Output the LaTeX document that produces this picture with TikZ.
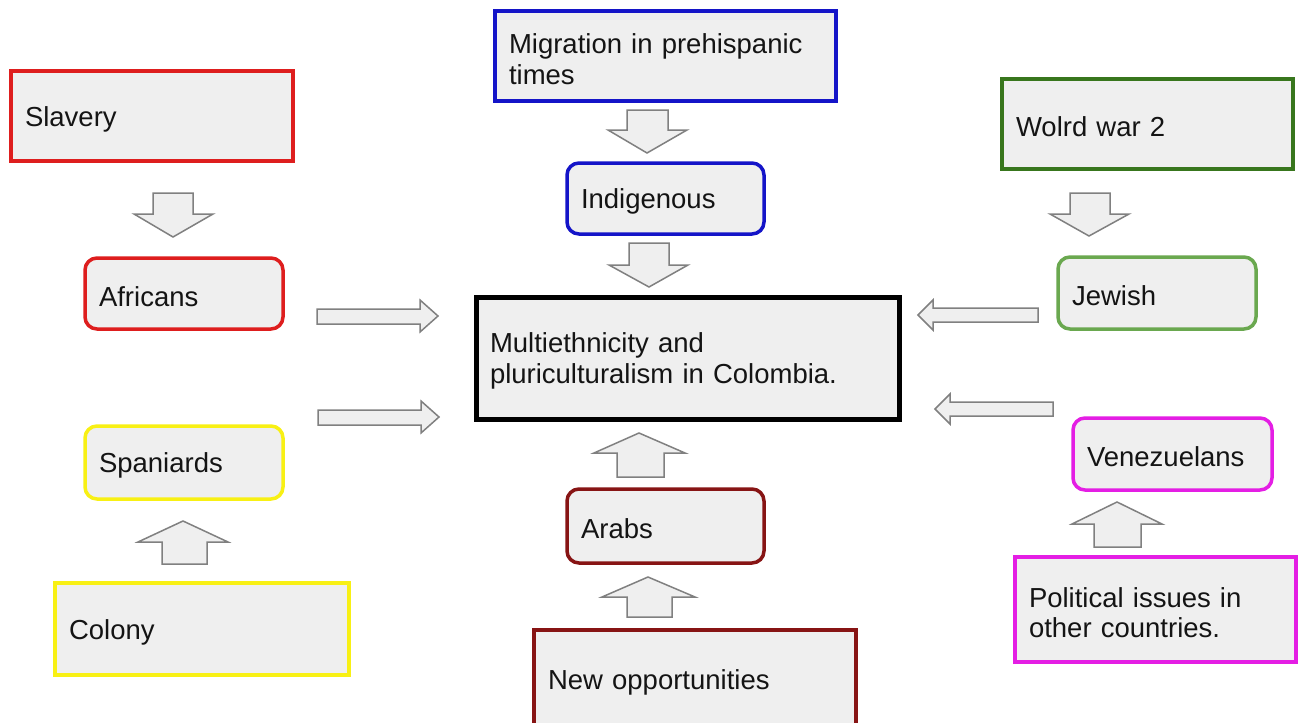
\documentclass[tikz,border=0pt]{standalone}
\usepackage{fontspec}
\setmainfont{Liberation Sans}
\definecolor{boxfill}{RGB}{239,239,239}
\definecolor{arrowgray}{RGB}{128,128,128}
\definecolor{cred}{RGB}{222,30,30}
\definecolor{cyellow}{RGB}{248,240,20}
\definecolor{cblue}{RGB}{20,20,200}
\definecolor{cdarkred}{RGB}{135,20,20}
\definecolor{cdkgreen}{RGB}{56,118,29}
\definecolor{cgreen}{RGB}{106,168,79}
\definecolor{cmagenta}{RGB}{228,30,228}
\newcommand\mybx[7]{%
  \pgfmathsetmacro\myW{#5-#3}\pgfmathsetmacro\myH{#6-#4}\pgfmathsetmacro\myTW{#5-#3-28}%
  \pgfmathsetmacro\myCX{(#3+#5)/2}\pgfmathsetmacro\myCY{(#4+#6)/2}%
  \node[#1, minimum width=\myW pt, minimum height=\myH pt, text width=\myTW pt] (#2) at (\myCX,\myCY) {\rule{0pt}{26pt}#7};}
\tikzset{
  box/.style={draw=#1, line width=3.5pt, fill=boxfill, align=left, inner xsep=14pt, inner ysep=0pt,
    font=\fontsize{27.5}{30.5}\selectfont, text=black!92},
  rbox/.style={box=#1, rounded corners=12pt},
  barrow/.style={draw=arrowgray, fill=boxfill, line width=1.5pt, line join=miter}
}
\begin{document}
\begin{tikzpicture}[x=1pt,y=-1pt]
\fill[white] (0,0) rectangle (1302,723);
\useasboundingbox (0,0) rectangle (1302,723);
% boxes
\mybx{box=cred}{slavery}{11}{71}{293}{161}{Slavery}
\mybx{rbox=cred}{africans}{85}{258}{283}{329}{Africans}
\mybx{rbox=cyellow}{spaniards}{85}{426}{283}{499}{Spaniards}
\mybx{box=cyellow}{colony}{55}{583}{349}{675}{Colony}
\mybx{box=cblue}{migration}{495}{11}{836}{101}{Migration in prehispanic\\times}
\mybx{rbox=cblue}{indigenous}{567}{163}{764}{234}{Indigenous}
\mybx{box=black,line width=5pt}{center}{476}{297}{899}{419}{Multiethnicity and\\pluriculturalism in Colombia.}
\mybx{rbox=cdarkred}{arabs}{567}{489}{764}{563}{Arabs}
\mybx{box=cdarkred}{newopp}{534}{630}{856}{728}{New opportunities}
\mybx{box=cdkgreen}{ww}{1002}{79}{1293}{169}{Wolrd war 2}
\mybx{rbox=cgreen}{jewish}{1058}{257}{1256}{329}{Jewish}
\mybx{rbox=cmagenta}{venez}{1073}{418}{1272}{490}{Venezuelans}
\mybx{box=cmagenta}{political}{1015}{557}{1296}{662}{Political issues in\\other countries.}
% down arrows
\draw[barrow] (153,193) -- (193,193) -- (193,214) -- (213,214) -- (173,237) -- (134,214) -- (153,214) -- cycle;
\draw[barrow] (627,110) -- (668,110) -- (668,130) -- (687,130) -- (647,153) -- (608,130) -- (627,130) -- cycle;
\draw[barrow] (629,243) -- (669,243) -- (669,265) -- (688,265) -- (649,287) -- (609,265) -- (629,265) -- cycle;
\draw[barrow] (1070,193) -- (1110,193) -- (1110,214) -- (1129,214) -- (1089,236) -- (1050,214) -- (1070,214) -- cycle;
% right arrows
\draw[barrow] (317,309) -- (420,309) -- (420,300) -- (438,316) -- (420,332) -- (420,324) -- (317,324) -- cycle;
\draw[barrow] (318,410) -- (421,410) -- (421,401) -- (439,417) -- (421,433) -- (421,425) -- (318,425) -- cycle;
% left arrows
\draw[barrow] (1038,308) -- (933,308) -- (933,300) -- (918,315) -- (933,330) -- (933,322) -- (1038,322) -- cycle;
\draw[barrow] (1053,402) -- (950,402) -- (950,394) -- (935,409) -- (950,424) -- (950,416) -- (1053,416) -- cycle;
% up arrows
\draw[barrow] (162,564) -- (162,542) -- (138,542) -- (183,521) -- (228,542) -- (207,542) -- (207,564) -- cycle;
\draw[barrow] (1094,547) -- (1094,524) -- (1072,524) -- (1117,502) -- (1162,524) -- (1141,524) -- (1141,547) -- cycle;
\draw[barrow] (617,477) -- (617,453) -- (594,453) -- (639,433) -- (685,453) -- (664,453) -- (664,477) -- cycle;
\draw[barrow] (627,617) -- (627,597) -- (602,597) -- (648,577) -- (695,597) -- (672,597) -- (672,617) -- cycle;
\end{tikzpicture}
\end{document}
